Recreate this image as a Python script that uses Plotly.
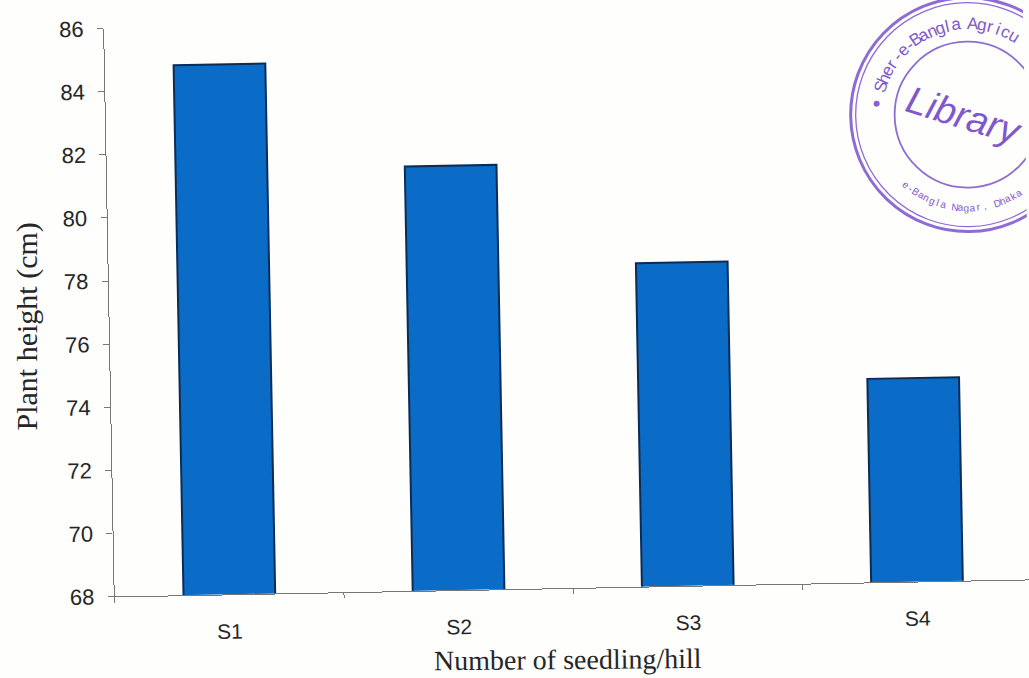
import math
import plotly.graph_objects as go

# Plant height by seedling number per hill
categories = ["S1", "S2", "S3", "S4"]
plant_height = [84.8, 81.45, 78.25, 74.45]
y_ticks = [68, 70, 72, 74, 76, 78, 80, 82, 84, 86]

WIDTH, HEIGHT = 1029, 678
LEFT, RIGHT, TOP, BOTTOM = 109.5, 1.5, 21.3, 88.5
TILT = 1.07  # degrees of counter-clockwise page skew
PAPER = "#fefefd"
INK = "#262626"
STAMP = "#6a3cc4"

plot_w = WIDTH - LEFT - RIGHT
plot_h = HEIGHT - TOP - BOTTOM
sin_t, cos_t = math.sin(math.radians(TILT)), math.cos(math.radians(TILT))


def page_to_paper(px, py):
    """Convert a position on the skewed page to paper fractions of the level figure."""
    dx, dy = px - WIDTH / 2, py - HEIGHT / 2
    x0 = WIDTH / 2 + dx * cos_t - dy * sin_t
    y0 = HEIGHT / 2 + dx * sin_t + dy * cos_t
    return (x0 - LEFT) / plot_w, 1 - (y0 - TOP) / plot_h


fig = go.Figure(
    go.Bar(
        x=categories,
        y=plant_height,
        width=0.40,
        marker=dict(color="#0a6cc6", line=dict(color="#0b2c55", width=2)),
    )
)

# Library stamp in the upper right corner
cx, cy = 968, 115
shapes = []
for radius, lw in [(117, 3), (112, 1.3), (73, 1.8)]:
    x_c, y_c = page_to_paper(cx, cy)
    shapes.append(
        dict(
            type="circle", xref="paper", yref="paper", layer="above",
            x0=x_c - radius / plot_w, x1=x_c + radius / plot_w,
            y0=y_c - radius / plot_h, y1=y_c + radius / plot_h,
            line=dict(color=STAMP, width=lw), opacity=0.75,
        )
    )
dot_x, dot_y = page_to_paper(877, 104)
shapes.append(
    dict(
        type="circle", xref="paper", yref="paper", layer="above",
        x0=dot_x - 3 / plot_w, x1=dot_x + 3 / plot_w,
        y0=dot_y - 3 / plot_h, y1=dot_y + 3 / plot_h,
        fillcolor=STAMP, line=dict(width=0), opacity=0.8,
    )
)


def stamp_text(text, px, py, size, angle, **extra):
    ax, ay = page_to_paper(px, py)
    return dict(
        text=text, xref="paper", yref="paper", x=ax, y=ay, showarrow=False,
        xanchor="center", yanchor="middle", textangle=angle + TILT,
        font=dict(family="Liberation Sans", size=size, color=STAMP), opacity=0.85, **extra,
    )


def page_title(text, px, py, angle, size):
    ax, ay = page_to_paper(px, py)
    return dict(
        text=text, xref="paper", yref="paper", x=ax, y=ay, showarrow=False,
        xanchor="center", yanchor="middle", textangle=angle + TILT,
        font=dict(family="Liberation Serif", size=size, color=INK),
    )


annotations = [
    page_title("Plant height (cm)", 27, 327, -90, 30),
    page_title("Number of seedling/hill", 568, 660, -0.5, 28),
    stamp_text("<i>Library</i>", 964, 116, 38, 17),
]

# Upper arc lettering, read clockwise
top_label = "Sher-e-Bangla Agricu"
for i, ch in enumerate(top_label):
    a = -72 + i * 5.4
    rad = math.radians(a)
    annotations.append(
        stamp_text(ch, cx + 91 * math.sin(rad), cy - 91 * math.cos(rad), 17, a)
    )

# Lower arc lettering, read counter-clockwise so it stays upright
bottom_label = "e-Bangla Nagar, Dhaka"
for i, ch in enumerate(bottom_label):
    a = -41 + i * 3.7
    rad = math.radians(a)
    annotations.append(
        stamp_text(ch, cx + 93 * math.sin(rad), cy + 93 * math.cos(rad), 10, -a)
    )

fig.update_layout(
    width=WIDTH,
    height=HEIGHT,
    margin=dict(l=LEFT, r=RIGHT, t=TOP, b=BOTTOM, autoexpand=False),
    paper_bgcolor=PAPER,
    plot_bgcolor=PAPER,
    showlegend=False,
    shapes=shapes,
    annotations=annotations,
    xaxis=dict(
        type="category",
        tickson="boundaries",
        ticks="outside",
        ticklen=5,
        tickcolor="#777777",
        showline=True,
        linecolor="#777777",
        linewidth=1.2,
        showgrid=False,
        zeroline=False,
        ticklabelstandoff=18,
        tickfont=dict(family="Liberation Sans", size=21, color=INK),
    ),
    yaxis=dict(
        range=[68, 86],
        tickmode="array",
        tickvals=y_ticks,
        ticktext=[str(v) for v in y_ticks],
        ticks="outside",
        ticklen=6,
        tickcolor="#777777",
        showline=True,
        linecolor="#777777",
        linewidth=1.2,
        showgrid=False,
        zeroline=False,
        ticklabelstandoff=9,
        tickfont=dict(family="Liberation Sans", size=22, color=INK),
    ),
)

# Turn the whole sheet by the skew angle
skew_js = (
    "var el = document.getElementById('{plot_id}');"
    "el.style.transformOrigin = '%dpx %dpx';"
    "el.style.transform = 'rotate(-%.2fdeg)';"
    "document.body.style.overflow = 'hidden';"
    "document.body.style.background = '%s';"
) % (WIDTH / 2, HEIGHT / 2, TILT, PAPER)

fig.write_html("out.html", post_script=skew_js)
